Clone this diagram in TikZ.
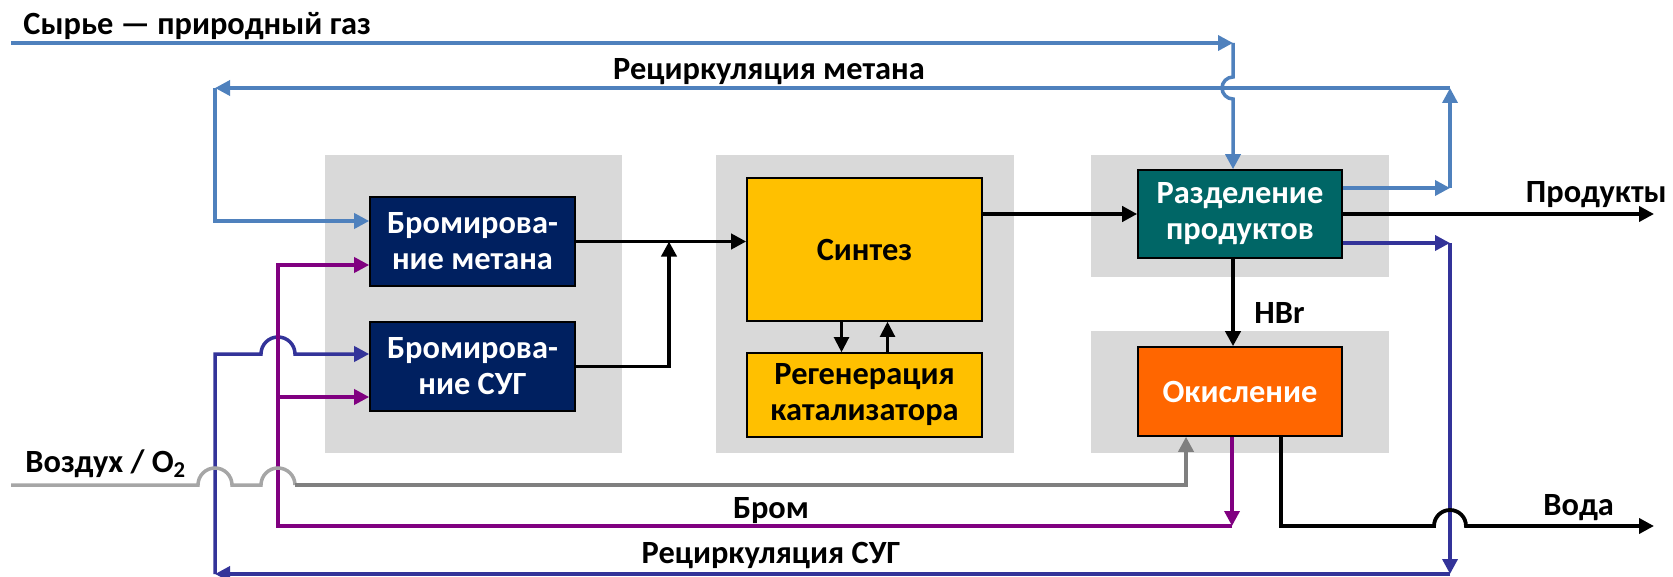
\documentclass[tikz,border=0pt]{standalone}
\usepackage{fontspec}
\setmainfont{Carlito}
\usetikzlibrary{arrows.meta,calc}
\definecolor{panelgray}{HTML}{D9D9D9}
\definecolor{brnavy}{HTML}{002060}
\definecolor{septeal}{HTML}{006666}
\definecolor{synyellow}{HTML}{FFC000}
\definecolor{oxiorange}{HTML}{FF6600}
\definecolor{methblue}{HTML}{4F81BD}
\definecolor{sugnavy}{HTML}{333399}
\definecolor{brompurple}{HTML}{800080}
\definecolor{airlight}{HTML}{A6A6A6}
\definecolor{airdark}{HTML}{7F7F7F}
\tikzset{
    unit/.style={draw=black, line width=0.8pt, inner sep=0pt, align=center,
        minimum width=102.5pt, minimum height=44.5pt, text=white},
    lbl/.style={inner sep=0pt},
    blk/.style={line width=1.9pt, ->},
    meth/.style={line width=1.75pt, methblue, ->},
    suga/.style={line width=1.75pt, sugnavy, ->},
    brom/.style={line width=1.75pt, brompurple, ->},
    airl/.style={line width=1.75pt, airlight},
    aird/.style={line width=1.75pt, airdark, ->},
}

\begin{document}
\begin{tikzpicture}[x=0.5pt, y=-0.5pt,
        >={Triangle[length=7.5pt,width=7.5pt]},
        every node/.append style={font=\fontsize{16.2}{18}\selectfont\bfseries}]
        \useasboundingbox (0,0) rectangle (1673,577);
        \foreach \xa/\ya/\xb/\yb in {325/155/622/453, 716/155/1014/453,
                1091/155/1389/277, 1091/331/1389/453} {
            \fill[panelgray] (\xa,\ya) rectangle (\xb,\yb);
        }
        \node[unit, fill=brnavy] (brm) at (472.5,241.5) {Бромирова-\\ние метана};
        \node[unit, fill=brnavy] (brs) at (472.5,366.5) {Бромирова-\\ние СУГ};
        \node[unit, fill=synyellow, text=black, minimum width=117.5pt,
            minimum height=71.5pt] (syn) at (864.5,249.5) {Синтез};
        \node[unit, fill=synyellow, text=black, minimum width=117.5pt,
            minimum height=42pt] (reg) at (864.5,395) {Регенерация\\катализатора};
        \node[unit, fill=septeal, minimum width=102pt, minimum height=44pt]
            (sep) at (1240,214) {Разделение\\продуктов};
        \node[unit, fill=oxiorange, minimum width=102pt] (oxi) at (1240,391.5) {Окисление};

        \coordinate (feedin) at (11,43);
        \coordinate (feedc) at (1233,43);
        \coordinate (mra) at (1450,188);
        \coordinate (mrb) at (1450,88);
        \coordinate (mrc) at (215,88);
        \coordinate (mrd) at (215,221);
        \coordinate (sra) at (1450,243);
        \coordinate (srb) at (1450,574);
        \coordinate (src) at (215,574);
        \coordinate (srd) at (215,354);
        \coordinate (bra) at (1232,526);
        \coordinate (brb) at (278,526);
        \coordinate (brc) at (278,265);
        \coordinate (brd) at (278,397);
        \coordinate (aira) at (11,485);
        \coordinate (airb) at (1186,485);
        \coordinate (wata) at (1281,526);
        \coordinate (watb) at (1654,526);
        \coordinate (prodb) at (1654,214);
        \coordinate (synj) at (669,0);

        \draw[meth] (feedin) -- (feedc);
        \draw[meth] (feedc) -- ($(feedc |- mrb)+(0,-11)$)
            arc[start angle=90, end angle=270, radius=5.5pt] -- (feedc |- sep.north);
        \draw[meth] (sep.east |- mra) -- (mra);
        \draw[meth] (mra) -- (mrb);
        \draw[meth] (mrb) -- (mrc);
        \draw[meth] (mrc) -- (mrd) -- (mrd -| brm.west);

        \draw[blk] (sep.east) -- (prodb);
        \draw[suga] (sep.east |- sra) -- (sra);
        \draw[suga] (sra) -- (srb);
        \draw[suga] (srb) -- (src);
        \draw[suga] (src) -- (srd) -- ($(srd -| brc)+(-17,0)$)
            arc[start angle=180, end angle=0, radius=8.5pt] -- (srd -| brs.west);

        \draw[brom] (bra |- oxi.south) -- (bra);
        \draw[brom] (bra) -- (brb) -- (brc) -- (brc -| brm.west);
        \draw[brom] (brd) -- (brd -| brs.west);

        \draw[airl] (aira) -- ($(aira -| src)+(-17,0)$)
            arc[start angle=180, end angle=0, radius=8.5pt] -- ($(aira -| brb)+(-17,0)$)
            arc[start angle=180, end angle=0, radius=8.5pt];
        \draw[aird] ($(aira -| brb)+(17,0)$) -- (airb) -- (airb |- oxi.south);

        \draw[blk] (wata |- oxi.south) -- (wata) -- ($(wata -| srb)+(-16,0)$)
            arc[start angle=180, end angle=0, radius=8pt] -- (watb);

        \draw[blk] (brm.east) -- (syn.west |- brm.east);
        \draw[blk] (brs.east) -- (brs.east -| synj) -- (synj |- brm.east);
        \draw[blk] (syn.east |- sep.west) -- (sep.west);
        \draw[blk] (sep.south -| feedc) -- (oxi.north -| feedc);
        \draw[line width=1.1pt, ->] ([xshift=-11.5pt]syn.south) -- ([xshift=-11.5pt]reg.north);
        \draw[line width=1.1pt, ->] ([xshift=11.5pt]reg.north) -- ([xshift=11.5pt]syn.south);

        \node[lbl, anchor=base west] (feedlbl) at (23,35) {Сырье — природный газ};
        \node[lbl, anchor=base] (mrlbl) at (769,80) {Рециркуляция метана};
        \node[lbl, anchor=base east] (prodlbl) at (1667,203) {Продукты};
        \node[lbl, anchor=base west] (hbrlbl) at (1254,323) {HBr};
        \node[lbl, anchor=base west] (airlbl) at (25,472) {Воздух / O\textsubscript{2}};
        \node[lbl, anchor=base] (brlbl) at (771,518) {Бром};
        \node[lbl, anchor=base] (srlbl) at (771,563) {Рециркуляция СУГ};
        \node[lbl, anchor=base west] (watlbl) at (1543,515) {Вода};
\end{tikzpicture}
\end{document}
